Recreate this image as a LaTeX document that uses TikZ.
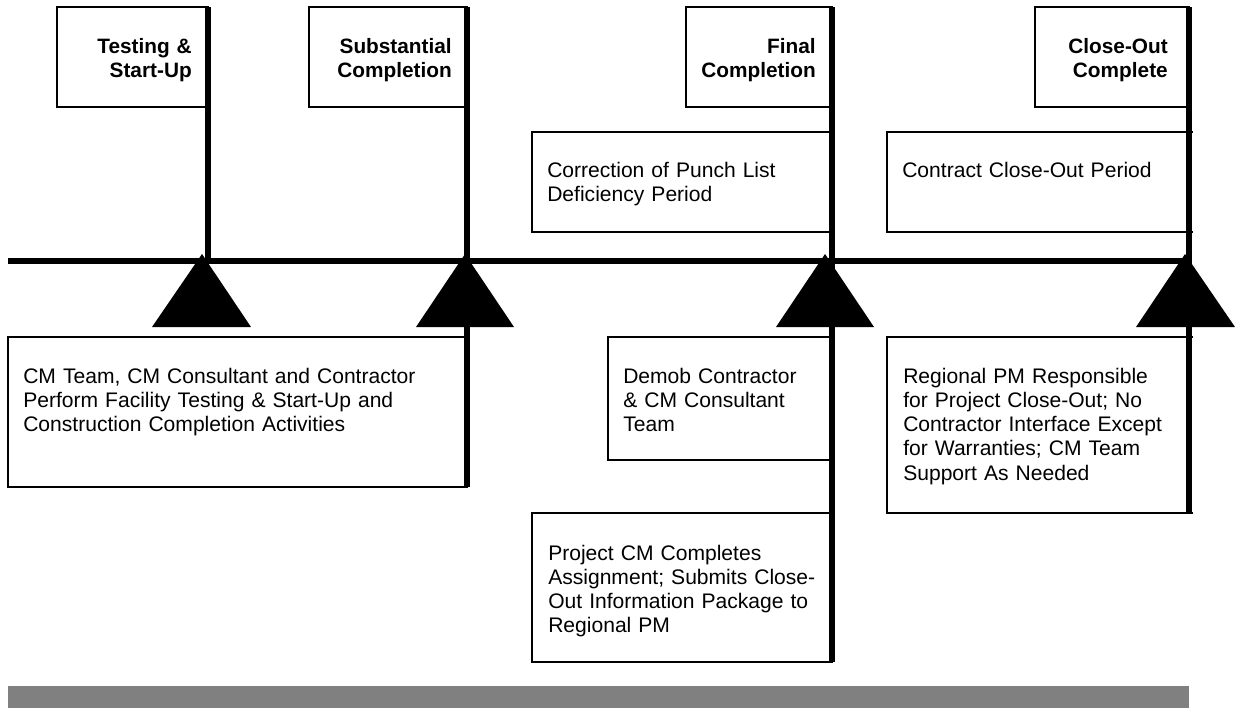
\documentclass[tikz,border=0pt]{standalone}
\usepackage{fontspec}
\setmainfont{Liberation Sans}
\begin{document}
\begin{tikzpicture}[x=0.75pt,y=-0.75pt,
  pole/.style={line width=4.5pt},
  axisline/.style={line width=4pt},
  flagbox/.style={draw, line width=1.5pt},
  thinbox/.style={draw, line width=1.1pt},
  thickbox/.style={draw, line width=1.5pt},
  tri/.style={fill=black},
  flaglabel/.style={anchor=base east, align=right, text width=5cm, inner sep=0pt, font=\bfseries\fontsize{15.6}{18}\selectfont},
  bodytext/.style={anchor=base west, align=left, text width=14cm, inner sep=0pt, font=\fontsize{15.8}{18.2}\selectfont}]
\useasboundingbox (0,0) rectangle (1241,708);

% flag boxes
\draw[flagbox] (57,7) rectangle (208,107);
\draw[flagbox] (309,7) rectangle (467,107);
\draw[flagbox] (686,7) rectangle (832,107);
\draw[flagbox] (1035,7) rectangle (1189,107);

% activity boxes
\draw[thickbox] (8,337) rectangle (467,487);
\draw[thinbox] (532,132) rectangle (832,232);
\draw[thickbox] (1193,132) -- (887,132) -- (887,232) -- (1193,232);
\draw[thinbox] (608,337) rectangle (832,460);
\draw[thinbox] (1193,337) -- (887,337) -- (887,513) -- (1193,513);
\draw[thinbox] (532,513) rectangle (832,662);

% poles
\coordinate (p1t) at (208,7);  \coordinate (p1b) at (208,261);
\coordinate (p2t) at (467,7);  \coordinate (p2b) at (467,487);
\coordinate (p3t) at (832,7);  \coordinate (p3b) at (832,662);
\coordinate (p4t) at (1189,7); \coordinate (p4b) at (1189,513);
\draw[pole] (p1t) -- (p1b);
\draw[pole] (p2t) -- (p2b);
\draw[pole] (p3t) -- (p3b);
\draw[pole] (p4t) -- (p4b);

% time line
\coordinate (tl) at (8,261); \coordinate (tr) at (1192,261);
\draw[axisline] (tl) -- (tr);

% triangles
\fill[tri] (202,254) -- (152,327) -- (251,327) -- cycle;
\fill[tri] (465,254) -- (416,327) -- (514,327) -- cycle;
\fill[tri] (825,254) -- (776,327) -- (874,327) -- cycle;
\fill[tri] (1185,254) -- (1136,327) -- (1235,327) -- cycle;

% gray bar
\fill[fill={rgb,255:red,128;green,128;blue,128}] (8,686) rectangle (1189,708);

% flag labels
\node[flaglabel] (l1) at (192,53) {Testing \&\\Start-Up};
\node[flaglabel] (l2) at (452,53) {Substantial\\Completion};
\node[flaglabel] (l3) at (816,53) {Final\\Completion};
\node[flaglabel] (l4) at (1168,53) {Close-Out\\Complete};

% body texts
\node[bodytext] (t1) at (23,383) {CM Team, CM Consultant and Contractor\\Perform Facility Testing \& Start-Up and\\Construction Completion Activities};
\node[bodytext] (t2) at (547,177) {Correction of Punch List\\Deficiency Period};
\node[bodytext] (t3) at (902,177) {Contract Close-Out Period};
\node[bodytext] (t4) at (623,383) {Demob Contractor\\\& CM Consultant\\Team};
\node[bodytext] (t5) at (903,383) {Regional PM Responsible\\for Project Close-Out; No\\Contractor Interface Except\\for Warranties; CM Team\\Support As Needed};
\node[bodytext] (t6) at (548,560) {Project CM Completes\\Assignment; Submits Close-\\Out Information Package to\\Regional PM};
\end{tikzpicture}
\end{document}
